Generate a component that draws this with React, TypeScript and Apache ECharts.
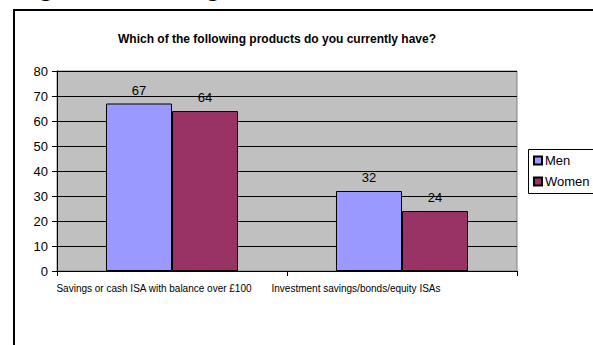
import React, { useEffect, useRef } from "react";
import * as echarts from "echarts";

const categories = ["Savings or cash ISA with balance over £100", "Investment savings/bonds/equity ISAs"];
const menValues = [67, 32];
const womenValues = [64, 24];
const seriesNames = ["Men", "Women"];
const chartTitle = "Which of the following products do you currently have?";

export default function App() {
  const ref = useRef<HTMLDivElement>(null);
  useEffect(() => {
    document.body.style.margin = "0";
    const chart = echarts.init(ref.current!, null, { renderer: "svg" });
    const font = "Arial, 'Liberation Sans', sans-serif";
    const labelShift = [36, 92];
    chart.setOption({
      animation: false,
      backgroundColor: "#ffffff",
      textStyle: { fontFamily: font },
      title: {
        text: chartTitle,
        left: 272,
        top: 28,
        textAlign: "center",
        textStyle: { fontSize: 12, fontWeight: "bold", color: "#000", fontFamily: font },
      },
      graphic: [
        {
          type: "rect",
          shape: { x: 14, y: 10, width: 700, height: 500 },
          style: { fill: "none", stroke: "#000", lineWidth: 2 },
          silent: true,
        },
        {
          type: "rect",
          shape: { x: 528.5, y: 149.5, width: 120, height: 44 },
          style: { fill: "#fff", stroke: "#000", lineWidth: 1 },
          silent: true,
          z: -1,
        },
        {
          type: "text",
          x: 38,
          y: -13,
          style: { text: "g", fill: "#000", font: `bold 26px ${font}`, verticalAlign: "middle" },
        },
        {
          type: "text",
          x: 205,
          y: -13,
          style: { text: "g", fill: "#000", font: `bold 26px ${font}`, verticalAlign: "middle" },
        },
      ],
      legend: {
        orient: "vertical",
        left: 528,
        top: 149,
        itemWidth: 8,
        itemHeight: 8,
        itemGap: 8,
        padding: [5, 5, 5, 5],
        icon: "rect",
        textStyle: { fontSize: 13, color: "#000", fontFamily: font, padding: [0, 0, 0, -2] },
        data: seriesNames,
        z: 10,
      },
      grid: {
        left: 57,
        right: 76,
        top: 71,
        bottom: 74,
        show: true,
        backgroundColor: "#C0C0C0",
        borderColor: "#808080",
        borderWidth: 1,
      },
      xAxis: {
        type: "category",
        data: categories.map((c, i) => ({ value: c, textStyle: { padding: [0, labelShift[i], 0, 0] } })),
        axisLine: { lineStyle: { color: "#000", width: 1 } },
        axisTick: { show: true, length: 5, lineStyle: { color: "#000" } },
        axisLabel: { fontSize: 10, color: "#000", margin: 12, fontFamily: font, interval: 0 },
      },
      yAxis: {
        type: "value",
        min: 0,
        max: 80,
        interval: 10,
        axisLine: { show: true, lineStyle: { color: "#000", width: 1 } },
        axisTick: { show: true, length: 5, lineStyle: { color: "#000" } },
        axisLabel: { fontSize: 13, color: "#000", margin: 9, fontFamily: font },
        splitLine: { lineStyle: { color: "#000", width: 1 } },
      },
      series: [
        {
          name: seriesNames[0],
          type: "bar",
          data: menValues,
          barGap: "0%",
          barCategoryGap: "42.6%",
          itemStyle: { color: "#9999FF", borderColor: "#000", borderWidth: 1 },
          label: { show: true, position: "top", distance: 7, fontSize: 13, color: "#000", fontFamily: font },
        },
        {
          name: seriesNames[1],
          type: "bar",
          data: womenValues,
          barGap: "0%",
          barCategoryGap: "42.6%",
          itemStyle: { color: "#993366", borderColor: "#000", borderWidth: 1 },
          label: { show: true, position: "top", distance: 7, fontSize: 13, color: "#000", fontFamily: font },
        },
      ],
    });
    return () => chart.dispose();
  }, []);
  return <div ref={ref} style={{ width: 593, height: 345 }} />;
}
